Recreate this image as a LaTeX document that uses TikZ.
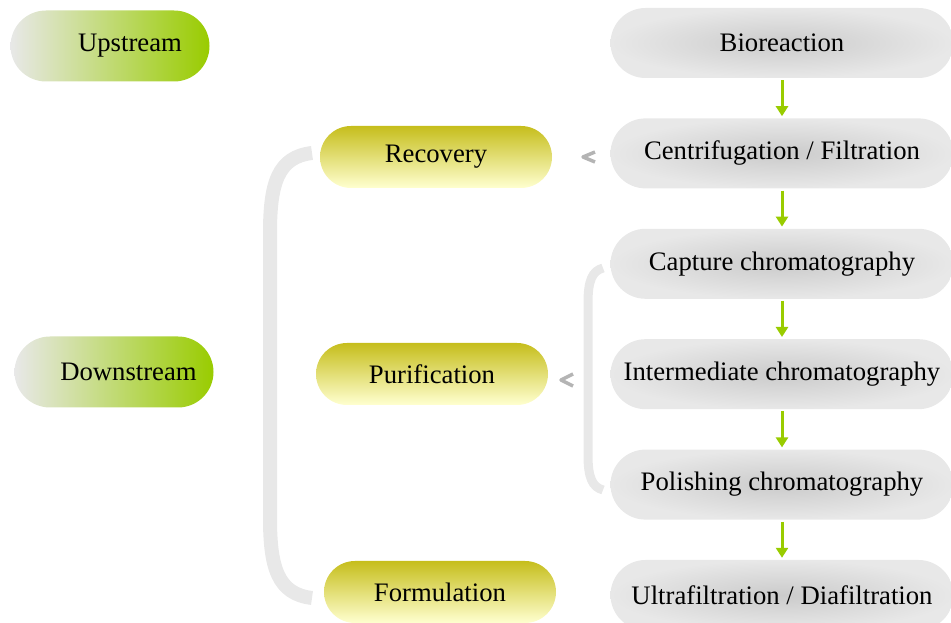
\documentclass[tikz,border=0pt]{standalone}
\usepackage{fontspec}
\setmainfont{Liberation Serif}
\usetikzlibrary{arrows.meta,positioning}
\definecolor{leaf}{HTML}{99CC00}
\definecolor{mist}{HTML}{E8E8E8}
\definecolor{smoke}{HTML}{CBCBCB}
\definecolor{straw}{HTML}{C6BE1C}
\definecolor{cream}{HTML}{FFFFD0}
\definecolor{chevgray}{HTML}{B4B4B4}

\begin{document}
\begin{tikzpicture}[x=1pt,y=1pt,
  font=\fontsize{26.7}{32}\selectfont,
  stage/.style={rectangle,rounded corners=35.5pt,minimum width=199pt,minimum height=71pt,
    left color=mist,right color=leaf},
  phase/.style={rectangle,rounded corners=31pt,minimum width=232pt,minimum height=62pt,
    top color=straw,bottom color=cream},
  unitop/.style={rectangle,rounded corners=35pt,minimum width=343pt,minimum height=70pt,
    inner color=smoke,outer color=mist},
  flow/.style={-{Triangle[length=10pt,width=12pt]},leaf,line width=3pt,shorten <=2pt,shorten >=2pt},
  brace/.style={mist,line width=14pt},
  chev/.style={chevgray,line width=3.5pt,line join=round}]
  \useasboundingbox (0,0) rectangle (951,623);

  \node[stage] (up) at (110,577) {\hspace*{40pt}Upstream};
  \node[stage] (down) at (114,251) {\hspace*{29pt}Downstream};

  \node[phase] (recov) at (436,466) {Recovery};
  \node[phase] (purif) at (432,249) {Purification};
  \node[phase] (formul) at (440,31) {Formulation};

  \node[unitop] (bio) at (782,580) {Bioreaction};
  \node[unitop,below=40pt of bio] (centri) {Centrifugation / Filtration};
  \node[unitop,below=40pt of centri] (capt) {Capture chromatography};
  \node[unitop,below=40pt of capt] (inter) {Intermediate chromatography};
  \node[unitop,below=40pt of inter] (polish) {Polishing chromatography};
  \node[unitop,below=40pt of polish] (ultra) {Ultrafiltration / Diafiltration};

  \draw[flow] (bio) -- (centri);
  \draw[flow] (centri) -- (capt);
  \draw[flow] (capt) -- (inter);
  \draw[flow] (inter) -- (polish);
  \draw[flow] (polish) -- (ultra);

  \draw[brace] (312,470) .. controls (278,466) and (270,440) .. (270,390)
    -- (270,105) .. controls (270,55) and (278,29) .. (312,25);
  \draw[brace,line width=9pt] (603,355) .. controls (592,352) and (588,342) .. (588,320)
    -- (588,168) .. controls (588,146) and (592,136) .. (603,133);

  \draw[chev] (595,471) -- (583,466) -- (595,461);
  \draw[chev] (573,249) -- (561,243) -- (573,237);
\end{tikzpicture}
\end{document}
